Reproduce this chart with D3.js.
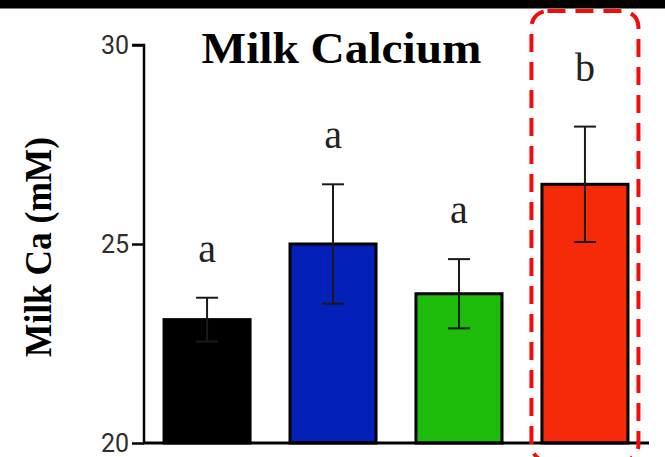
<!DOCTYPE html>
<html>
<head>
<meta charset="utf-8">
<script src="https://cdn.jsdelivr.net/npm/d3@7/dist/d3.min.js"></script>
<style>
  html, body { margin: 0; padding: 0; background: #fff; }
  svg { display: block; }
</style>
</head>
<body>
<svg id="chart" width="665" height="457"></svg>
<script>
// Milk calcium by group: mean ± SEM with significance letters
const groups = ["G1", "G2", "G3", "G4"];
const means = [23.1, 25.0, 23.75, 26.5];
const errors = [0.55, 1.5, 0.87, 1.45];
const letters = ["a", "a", "a", "b"];
const barColors = ["#000000", "#0320b9", "#1dbb0a", "#f52a08"];
const highlighted = ["G4"];
const yTicks = [20, 25, 30];

const svg = d3.select("#chart");

// top frame band
svg.append("rect").attr("x", 0).attr("y", 0).attr("width", 665).attr("height", 8.5).attr("fill", "#000");

const x = d3.scaleBand().domain(groups).range([143, 649]).paddingInner(0.317).paddingOuter(0.167);
const y = d3.scaleLinear().domain([20, 30]).range([443, 45]);

const data = groups.map((g, i) => ({ g, mean: means[i], err: errors[i], letter: letters[i], color: barColors[i] }));

// bars
svg.append("g").selectAll("rect").data(data).join("rect")
  .attr("x", d => x(d.g))
  .attr("y", d => y(d.mean))
  .attr("width", x.bandwidth())
  .attr("height", d => y(20) - y(d.mean))
  .attr("fill", d => d.color)
  .attr("stroke", "#000")
  .attr("stroke-width", 3);

// error bars
const eb = svg.append("g").attr("stroke", "#1a1a1a").attr("stroke-width", 2).attr("fill", "none");
const cap = 11;
data.forEach(d => {
  const cx = x(d.g) + x.bandwidth() / 2;
  eb.append("line").attr("x1", cx).attr("x2", cx).attr("y1", y(d.mean - d.err)).attr("y2", y(d.mean + d.err));
  eb.append("line").attr("x1", cx - cap).attr("x2", cx + cap).attr("y1", y(d.mean + d.err)).attr("y2", y(d.mean + d.err));
  eb.append("line").attr("x1", cx - cap).attr("x2", cx + cap).attr("y1", y(d.mean - d.err)).attr("y2", y(d.mean - d.err));
});

// significance letters
svg.append("g").selectAll("text").data(data).join("text")
  .attr("x", d => x(d.g) + x.bandwidth() / 2)
  .attr("y", d => y(d.mean + d.err) - (highlighted.includes(d.g) ? 46 : 36))
  .attr("text-anchor", "middle")
  .attr("font-family", "'Liberation Serif', serif")
  .attr("font-size", 40)
  .attr("fill", "#222")
  .text(d => d.letter);

// y axis
const yAxis = d3.axisLeft(y).tickValues(yTicks).tickSize(12).tickPadding(3);
const ya = svg.append("g").attr("transform", "translate(144,0)").call(yAxis);
ya.select(".domain").attr("stroke", "#000").attr("stroke-width", 2.5).attr("d", `M-12,${y(30)}H0V${y(20)}`);
ya.selectAll(".tick line").attr("stroke", "#000").attr("stroke-width", 2.5);
ya.selectAll(".tick text")
  .attr("font-family", "Roboto, sans-serif")
  .attr("font-size", 25)
  .attr("fill", "#2e2e2e");

// x baseline
svg.append("line").attr("x1", 143).attr("x2", 649).attr("y1", y(20)).attr("y2", y(20))
  .attr("stroke", "#000").attr("stroke-width", 3);

// y axis title
svg.append("text")
  .attr("transform", `translate(51,${247}) rotate(-90)`)
  .attr("text-anchor", "middle")
  .attr("font-family", "'Liberation Serif', serif")
  .attr("font-weight", "bold")
  .attr("font-size", 37)
  .attr("textLength", 220)
  .attr("lengthAdjust", "spacingAndGlyphs")
  .attr("fill", "#000")
  .text("Milk Ca (mM)");

// chart title
svg.append("text")
  .attr("x", 341.5).attr("y", 62.5)
  .attr("text-anchor", "middle")
  .attr("font-family", "'Liberation Serif', serif")
  .attr("font-weight", "bold")
  .attr("font-size", 44)
  .attr("textLength", 280)
  .attr("lengthAdjust", "spacingAndGlyphs")
  .attr("fill", "#000")
  .text("Milk Calcium");

// dashed highlight around the distinct group
highlighted.forEach(g => {
  const cx = x(g) + x.bandwidth() / 2;
  svg.append("rect")
    .attr("x", cx - 53.5).attr("y", 11)
    .attr("width", 107).attr("height", 450)
    .attr("rx", 16).attr("ry", 16)
    .attr("fill", "none")
    .attr("stroke", "#f20d0d")
    .attr("stroke-width", 4)
    .attr("stroke-dasharray", "18 10");
});
</script>
</body>
</html>
